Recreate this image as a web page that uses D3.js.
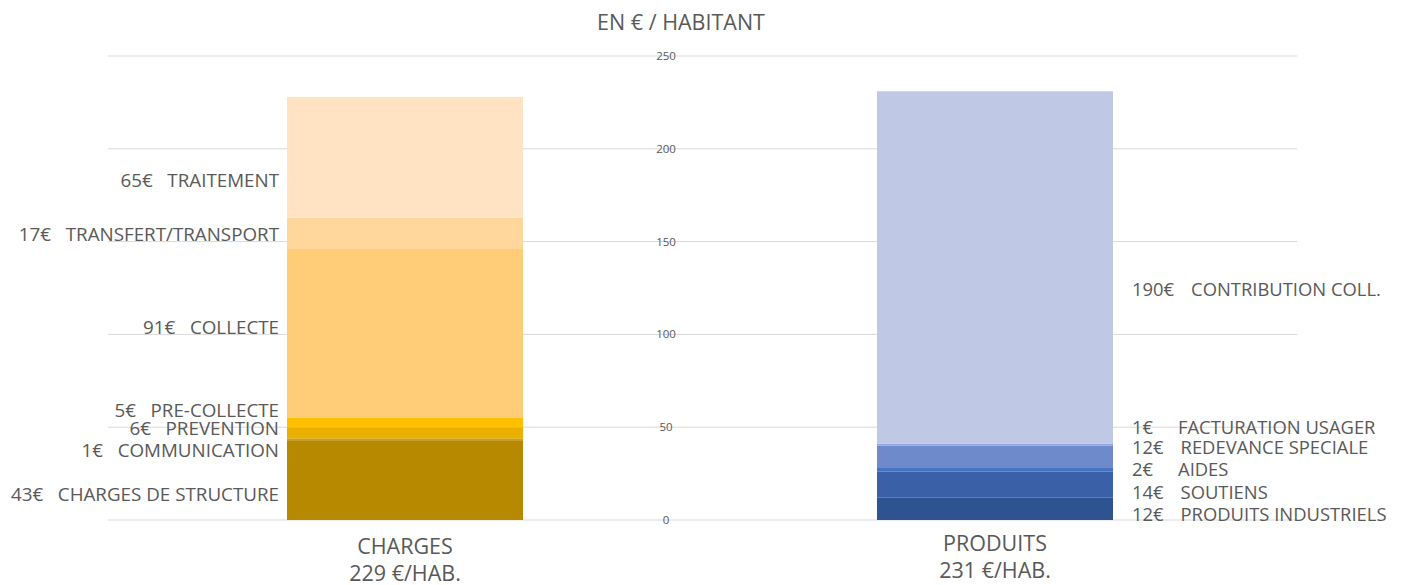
<!DOCTYPE html>
<html>
<head>
<meta charset="utf-8">
<script src="https://cdn.jsdelivr.net/npm/d3@7"></script>
<style>
  body { margin: 0; background: #fff; }
  svg text { font-family: "Open Sans", sans-serif; fill: #595959; white-space: pre; }
</style>
</head>
<body>
<div id="chart"></div>
<script>
// categories on the x axis
const categories = ["CHARGES", "PRODUITS"];
const totals = ["229 €/HAB.", "231 €/HAB."];

// charges, bottom to top
const chargeNames = ["CHARGES DE STRUCTURE", "COMMUNICATION", "PREVENTION", "PRE-COLLECTE", "COLLECTE", "TRANSFERT/TRANSPORT", "TRAITEMENT"];
const chargeValues = [43, 1, 6, 5, 91, 17, 65];
const chargeColors = ["#b68900", "#d69f00", "#ebaf00", "#ffc000", "#ffcd78", "#ffd79c", "#ffe3c2"];
// where each label sits (in €/hab), labels were moved by hand to avoid overlaps
const chargeLabelAt = [14, 37.7, 49.6, 59, 104, 153.6, 183];

// produits, bottom to top
const produitNames = ["PRODUITS INDUSTRIELS", "SOUTIENS", "AIDES", "REDEVANCE SPECIALE", "FACTURATION USAGER", "CONTRIBUTION COLL."];
const produitValues = [12, 14, 2, 12, 1, 190];
const produitColors = ["#2f5290", "#3a60a8", "#4472c4", "#6e8acb", "#8fa6da", "#bfc9e5"];
const produitLabelAt = [3.2, 15, 27, 38.8, 50, 124];

const yTicks = [0, 50, 100, 150, 200, 250];

const W = 1404, H = 585;
const svg = d3.select("#chart").append("svg").attr("width", W).attr("height", H);

const x = d3.scaleBand().domain(categories).range([110, 1290]).paddingInner(0.6).paddingOuter(0.3);
const y = d3.scaleLinear().domain([0, 250]).range([520, 56]);

// gridlines
svg.append("g")
  .selectAll("line")
  .data(yTicks)
  .join("line")
  .attr("x1", 108).attr("x2", 1297)
  .attr("y1", d => y(d)).attr("y2", d => y(d))
  .attr("stroke", "#d9d9d9").attr("stroke-width", 1);

// tick labels sit in the middle, on top of the gridlines
svg.append("g")
  .selectAll("text")
  .data(yTicks)
  .join("text")
  .attr("x", 666).attr("y", d => y(d))
  .attr("dy", "0.35em")
  .attr("text-anchor", "middle")
  .style("font-size", "11.5px")
  .text(d => d);

// title
svg.append("text")
  .attr("x", 681).attr("y", 22)
  .attr("dy", "0.35em")
  .attr("text-anchor", "middle")
  .style("font-size", "21.5px")
  .text("EN € / HABITANT");

function stackOf(values) {
  let acc = 0;
  return values.map(v => { const d = { y0: acc, y1: acc + v }; acc += v; return d; });
}

function drawBar(cat, values, colors) {
  const segs = stackOf(values);
  svg.append("g")
    .selectAll("rect")
    .data(segs)
    .join("rect")
    .attr("x", x(cat))
    .attr("width", x.bandwidth())
    .attr("y", d => y(d.y1))
    .attr("height", d => y(d.y0) - y(d.y1))
    .attr("fill", (d, i) => colors[i]);
}

drawBar("CHARGES", chargeValues, chargeColors);
drawBar("PRODUITS", produitValues, produitColors);

// charges labels, right aligned left of the bar
svg.append("g")
  .selectAll("text")
  .data(chargeNames)
  .join("text")
  .attr("x", x("CHARGES") - 8)
  .attr("y", (d, i) => y(chargeLabelAt[i]))
  .attr("dy", "0.35em")
  .attr("text-anchor", "end")
  .style("font-size", "18.8px")
  .text((d, i) => `${chargeValues[i]}€   ${d}`);

// produits labels, value column then name column
const px = x("PRODUITS") + x.bandwidth() + 19;
const pl = svg.append("g")
  .selectAll("g")
  .data(produitNames)
  .join("g")
  .attr("transform", (d, i) => `translate(0,${y(produitLabelAt[i])})`);
pl.append("text")
  .attr("class", "val")
  .attr("x", px)
  .attr("dy", "0.35em")
  .style("font-size", "18.4px")
  .text((d, i) => `${produitValues[i]}€`);
pl.each(function (d) {
  const g = d3.select(this);
  const w = g.select("text.val").node().getComputedTextLength();
  g.append("text")
    .attr("x", Math.max(px + w + 17, px + 46))
    .attr("dy", "0.35em")
    .style("font-size", "18.4px")
    .text(d);
});

// category labels and totals
const cl = svg.append("g")
  .selectAll("g")
  .data(categories)
  .join("g")
  .attr("transform", (d, i) => `translate(${x(d) + x.bandwidth() / 2},${i === 0 ? 546 : 543})`);
cl.append("text")
  .attr("text-anchor", "middle")
  .attr("dy", "0.35em")
  .style("font-size", "21.5px")
  .text(d => d);
cl.append("text")
  .attr("text-anchor", "middle")
  .attr("y", 27)
  .attr("dy", "0.35em")
  .style("font-size", "21.5px")
  .text((d, i) => totals[i]);
</script>
</body>
</html>
